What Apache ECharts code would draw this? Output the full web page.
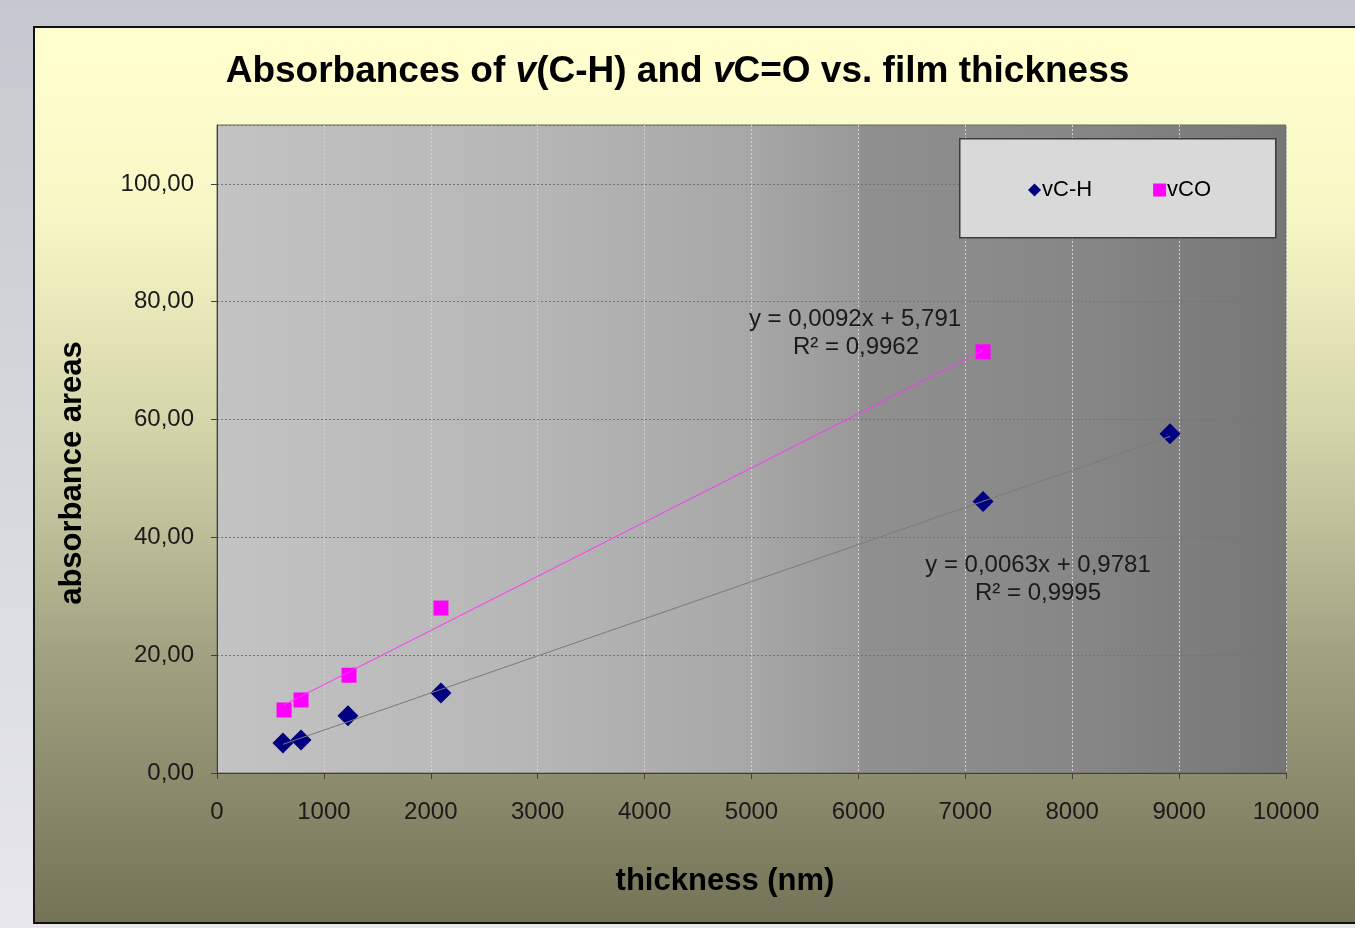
<!DOCTYPE html>
<html>
<head>
<meta charset="utf-8">
<script src="https://cdn.jsdelivr.net/npm/echarts@6/dist/echarts.min.js"></script>
<style>
html,body{margin:0;padding:0;width:1355px;height:928px;overflow:hidden;
  background:linear-gradient(to bottom,#c5c8ce 0%,#d6d8dc 50%,#e8e8ea 100%);}
#box{position:absolute;left:33px;top:26px;width:1400px;height:894px;border:2px solid #111;
  background:linear-gradient(to bottom,#ffffcf 0%,#f8f8c7 20%,#d4d4aa 45%,#a2a282 70%,#737357 100%);}
#chart{position:absolute;left:0;top:0;width:1355px;height:928px;}
</style>
</head>
<body>
<div id="box"></div>
<div id="chart"></div>
<script>
// ---- data ----
const xCH = [617, 786, 1225, 2095, 7166, 8915];
const yCH = [5.1, 5.6, 9.7, 13.6, 46.1, 57.6];
const xCO = [627, 786, 1235, 2095, 7166];
const yCO = [10.7, 12.4, 16.6, 28.0, 71.5];
// trendline end points (as drawn in the reference)
const trendCHx = [617, 8915];
const trendCHy = [4.87, 57.14];
const trendCOx = [627, 7166];
const trendCOy = [11.56, 71.72];
const seriesNames = ['vC-H', 'vCO'];
const eqCH = ['y = 0,0063x + 0,9781', 'R² = 0,9995'];
const eqCO = ['y = 0,0092x + 5,791', 'R² = 0,9962'];
const xTicks = [0, 1000, 2000, 3000, 4000, 5000, 6000, 7000, 8000, 9000, 10000];
const yTicks = [0, 20, 40, 60, 80, 100];

const zip = (a, b) => a.map((v, i) => [v, b[i]]);
const FONT = 'Liberation Sans, Arial, sans-serif';

const chart = echarts.init(document.getElementById('chart'), null, {renderer: 'canvas'});
chart.setOption({
  backgroundColor: 'transparent',
  animation: false,
  title: {
    left: 'center', top: 48,
    text: '{b|Absorbances of }{i|v}{b|(C-H) and }{i|v}{b|C=O vs. film thickness}',
    textStyle: {
      rich: {
        b: {fontFamily: FONT, fontWeight: 'bold', fontSize: 37, color: '#000'},
        i: {fontFamily: FONT, fontWeight: 'bold', fontStyle: 'italic', fontSize: 37, color: '#000'}
      }
    }
  },
  grid: {
    left: 217, top: 125, width: 1069, height: 648, show: true,
    borderColor: '#6a6a6a', borderWidth: 1,
    backgroundColor: {
      type: 'linear', x: 0, y: 0, x2: 1, y2: 0,
      colorStops: [
        {offset: 0, color: '#c3c3c3'},
        {offset: 0.3, color: '#b6b6b6'},
        {offset: 0.5, color: '#a7a7a7'},
        {offset: 0.6, color: '#999999'},
        {offset: 0.601, color: '#909090'},
        {offset: 0.8, color: '#878787'},
        {offset: 1, color: '#767676'}
      ]
    }
  },
  legend: {
    left: 1023, top: 174, z: 20,
    itemWidth: 13, itemHeight: 13, itemGap: 61,
    textStyle: {fontFamily: FONT, fontSize: 22, color: '#000', padding: [0, 0, 0, -4]},
    data: [{name: seriesNames[0], icon: 'diamond'}, {name: seriesNames[1], icon: 'rect'}]
  },
  xAxis: {
    type: 'value', min: 0, max: 10000, interval: 1000,
    axisLine: {lineStyle: {color: '#404040', width: 1}},
    axisTick: {show: true, length: 6, inside: false, lineStyle: {color: '#404040'}},
    axisLabel: {fontFamily: FONT, fontSize: 24, color: '#1a1a1a', margin: 27,
      formatter: v => xTicks.includes(v) ? String(v) : ''},
    splitLine: {show: true, lineStyle: {color: '#d2d2d2', type: [2, 2], width: 1}}
  },
  yAxis: {
    type: 'value', min: 0, max: 110, interval: 20,
    axisLine: {show: true, lineStyle: {color: '#404040', width: 1}},
    axisTick: {show: true, length: 6, lineStyle: {color: '#404040'}},
    axisLabel: {fontFamily: FONT, fontSize: 24, color: '#1a1a1a', margin: 23, showMaxLabel: false,
      formatter: v => yTicks.includes(v) ? v.toFixed(2).replace('.', ',') : ''},
    splitLine: {show: true, lineStyle: {color: '#747474', type: [2, 2], width: 1}}
  },
  graphic: [
    {type: 'rect', left: 959, top: 138, z: 15,
      shape: {width: 316, height: 99}, style: {fill: '#d9d9d9', stroke: '#3c3c3c', lineWidth: 1.5}},
    {type: 'text', x: 72, y: 473, rotation: Math.PI / 2, z: 10,
      style: {text: 'absorbance areas', font: 'bold 31px ' + FONT, fill: '#000', textAlign: 'center', textVerticalAlign: 'middle'}},
    {type: 'text', x: 725, y: 881, z: 10,
      style: {text: 'thickness (nm)', font: 'bold 31px ' + FONT, fill: '#000', textAlign: 'center', textVerticalAlign: 'middle'}},
    {type: 'text', x: 855, y: 319, z: 10,
      style: {text: eqCO[0], font: '24px ' + FONT, fill: '#1a1a1a', textAlign: 'center', textVerticalAlign: 'middle'}},
    {type: 'text', x: 856, y: 347, z: 10,
      style: {text: eqCO[1], font: '24px ' + FONT, fill: '#1a1a1a', textAlign: 'center', textVerticalAlign: 'middle'}},
    {type: 'text', x: 1038, y: 565, z: 10,
      style: {text: eqCH[0], font: '24px ' + FONT, fill: '#1a1a1a', textAlign: 'center', textVerticalAlign: 'middle'}},
    {type: 'text', x: 1038, y: 593, z: 10,
      style: {text: eqCH[1], font: '24px ' + FONT, fill: '#1a1a1a', textAlign: 'center', textVerticalAlign: 'middle'}}
  ],
  series: [
    {name: seriesNames[0], type: 'scatter', symbol: 'diamond', symbolSize: 21,
      itemStyle: {color: '#000080', opacity: 1}, data: zip(xCH, yCH), z: 3},
    {name: seriesNames[1], type: 'scatter', symbol: 'rect', symbolSize: 15,
      itemStyle: {color: '#ff00ff', opacity: 1}, data: zip(xCO, yCO), z: 3},
    {name: 'trendCH', type: 'line', symbol: 'none', z: 4, silent: true,
      lineStyle: {color: '#7a7a7a', width: 1}, data: zip(trendCHx, trendCHy)},
    {name: 'trendCO', type: 'line', symbol: 'none', z: 4, silent: true,
      lineStyle: {color: '#ff33ff', width: 1}, data: zip(trendCOx, trendCOy)}
  ]
});
</script>
</body>
</html>
